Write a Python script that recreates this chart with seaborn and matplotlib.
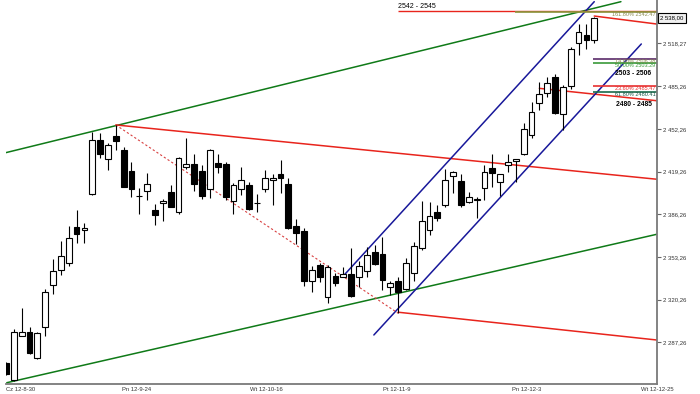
import numpy as np
import pandas as pd
import matplotlib
matplotlib.use("Agg")
import matplotlib.pyplot as plt
import seaborn as sns

# ---------------- data ----------------
opens = [2271.3, 2258.2, 2292.4, 2295.4, 2274.9, 2299.3, 2331.5, 2343.1, 2348.7, 2376.5,
         2373.9, 2401.8, 2443.4, 2429.3, 2446.5, 2436.2, 2419.7, 2400.0, 2404.1, 2389.6,
         2395.3, 2403.5, 2388.1, 2422.4, 2425.4, 2419.5, 2405.6, 2426.2, 2425.4, 2396.3,
         2405.6, 2408.7, 2394.6, 2406.1, 2413.1, 2417.0, 2410.0, 2377.0, 2373.4, 2334.8,
         2346.9, 2322.0, 2338.4, 2337.9, 2340.0, 2337.4, 2342.5, 2357.2, 2355.2, 2330.2,
         2334.8, 2328.2, 2341.0, 2359.8, 2373.9, 2388.1, 2393.3, 2415.6, 2412.0, 2395.8,
         2396.9, 2406.6, 2422.0, 2410.8, 2424.1, 2427.2, 2433.2, 2447.8, 2472.5, 2480.2,
         2492.3, 2464.1, 2485.4, 2518.8, 2525.0, 2520.6]
highs = [2272.0, 2297.3, 2314.0, 2299.3, 2295.4, 2328.4, 2351.3, 2365.5, 2377.0, 2389.9,
         2379.1, 2449.8, 2449.4, 2441.0, 2455.0, 2438.2, 2426.7, 2406.6, 2418.2, 2393.8,
         2398.4, 2408.7, 2430.5, 2445.2, 2433.2, 2424.1, 2437.0, 2433.2, 2426.7, 2410.5,
         2422.8, 2411.2, 2401.8, 2420.3, 2417.7, 2428.0, 2413.9, 2382.2, 2375.3, 2346.2,
         2348.7, 2346.9, 2341.0, 2345.6, 2359.8, 2350.0, 2361.0, 2362.4, 2368.3, 2334.8,
         2337.4, 2352.1, 2364.9, 2396.5, 2395.8, 2393.3, 2421.6, 2419.7, 2417.2, 2403.5,
         2399.7, 2424.1, 2433.2, 2417.7, 2433.2, 2429.3, 2457.1, 2473.0, 2488.4, 2492.3,
         2494.9, 2486.0, 2515.4, 2533.5, 2533.5, 2538.6]
lows = [2262.0, 2257.4, 2292.0, 2278.0, 2274.5, 2292.4, 2324.5, 2339.2, 2346.2, 2363.7,
        2364.1, 2401.0, 2429.8, 2420.3, 2435.7, 2407.0, 2399.6, 2386.1, 2397.1, 2377.8,
        2380.9, 2391.5, 2386.1, 2421.6, 2404.1, 2397.9, 2398.9, 2418.5, 2397.1, 2386.1,
        2400.9, 2389.5, 2387.6, 2403.5, 2393.3, 2402.3, 2375.0, 2363.1, 2330.7, 2326.3,
        2334.0, 2317.8, 2330.7, 2337.4, 2322.5, 2330.2, 2337.9, 2347.0, 2327.6, 2323.8,
        2309.6, 2327.6, 2334.8, 2358.5, 2370.1, 2381.1, 2392.0, 2402.3, 2392.0, 2395.0,
        2383.0, 2397.1, 2407.4, 2400.4, 2419.0, 2411.4, 2432.4, 2445.2, 2466.6, 2476.8,
        2464.0, 2451.1, 2483.3, 2509.0, 2514.2, 2518.8]
closes = [2262.8, 2295.0, 2295.0, 2279.2, 2294.2, 2325.9, 2342.5, 2353.9, 2368.0, 2370.6,
          2375.7, 2443.4, 2433.2, 2440.1, 2442.7, 2407.2, 2405.6, 2400.4, 2409.4, 2385.5,
          2396.3, 2391.9, 2430.1, 2425.4, 2410.0, 2400.4, 2435.7, 2422.8, 2399.7, 2409.2,
          2413.0, 2390.2, 2395.0, 2414.6, 2414.3, 2413.9, 2375.3, 2371.4, 2334.8, 2343.1,
          2337.4, 2345.6, 2332.8, 2340.0, 2323.0, 2346.2, 2354.7, 2347.7, 2335.4, 2333.3,
          2326.3, 2348.3, 2361.6, 2381.1, 2384.7, 2383.5, 2413.1, 2419.0, 2393.3, 2399.7,
          2397.9, 2419.0, 2418.5, 2417.0, 2426.7, 2428.8, 2452.4, 2465.3, 2479.5, 2487.9,
          2464.8, 2484.6, 2514.2, 2527.0, 2520.6, 2538.0]

x_tick_labels = ["Cz 12-8-30", "Pn 12-9-24", "Wt 12-10-16", "Pt 12-11-9", "Pn 12-12-3", "Wt 12-12-25"]
x_tick_bars = [0, 16.6, 33.2, 49.8, 66.4, 83.0]
y_tick_values = [2287.26, 2320.26, 2353.26, 2386.26, 2419.26, 2452.26, 2485.26, 2518.27]
y_tick_labels = ["2 287,26", "2 320,26", "2 353,26", "2 386,26", "2 419,26", "2 452,26", "2 485,26", "2 518,27"]
last_price_label = "2 538,00"
last_price = 2538.0

# trend lines: (bar index pair, price pair)
green_upper = ([0.0, 78.4], [2433.9, 2550.6])
green_lower = ([0.1, 83.0], [2256.0, 2370.8])
red_main = ([14.0, 83.0], [2455.3, 2413.3])
red_dotted = ([14.0, 50.0], [2455.3, 2309.7])
red_lower = ([50.0, 83.0], [2310.5, 2289.0])
blue_upper = ([43.0, 75.0], [2338.5, 2550.6])
blue_lower = ([46.9, 81.0], [2292.9, 2517.9])
red_top_short = ([75.0, 83.0], [2539.5, 2533.3])
red_mid_short = ([68.0, 83.0], [2483.6, 2474.0])

# horizontal levels
zone_top = 2543.5
zone_top_start = 50.0
fib_levels = [2542.47, 2506.38, 2503.29, 2485.47, 2480.41]
fib_starts = [64.9, 74.8, 74.8, 74.8, 74.8]
fib_labels = ["161.80% 2542.47", "14.60% 2506.38", "50.00% 2503.29", "23.60% 2485.47", "61.80% 2480.41"]
fib_colors = ["#8a9a40", "#5a2a6a", "#3a9a3a", "#e83030", "#1a6a4a"]
fib_text_colors = ["#8a8a50", "#8a8a50", "#3a9a3a", "#e83030", "#1a5a4a"]
zone_labels = ["2542 - 2545", "2503 - 2506", "2480 - 2485"]
zone_label_prices = [2547.2, 2494.7, 2471.1]

# ---------------- style ----------------
sns.set_style("white")
plt.rcParams['font.family'] = ['Liberation Sans', 'DejaVu Sans']

fig = plt.figure(figsize=(7.0, 3.94), dpi=100)
ax = fig.add_axes([6 / 700, 10 / 394, 651 / 700, 384 / 394])

df = pd.DataFrame({"open": opens, "high": highs, "low": lows, "close": closes})
df["i"] = np.arange(len(df))
up = df["close"] >= df["open"]

ax.vlines(df["i"], df["low"], df["high"], color="black", lw=0.8, zorder=3)
ax.bar(df["i"][up], (df["close"] - df["open"])[up], bottom=df["open"][up], width=0.74,
       facecolor="white", edgecolor="black", lw=0.8, zorder=4)
ax.bar(df["i"][~up], (df["close"] - df["open"])[~up], bottom=df["open"][~up], width=0.74,
       facecolor="black", edgecolor="black", lw=0.8, zorder=4)

GREEN = "#0f7a18"
RED = "#e8241c"
BLUE = "#18189a"

def tl(line, color, lw=1.1, ls="-", z=2):
    sns.lineplot(x=line[0], y=line[1], ax=ax, color=color, lw=lw, linestyle=ls, zorder=z)

tl(green_upper, GREEN)
tl(green_lower, GREEN)
tl(red_main, RED)
tl(red_lower, RED)
tl(red_top_short, RED)
tl(red_mid_short, RED)
tl(blue_upper, BLUE)
tl(blue_lower, BLUE)
sns.lineplot(x=red_dotted[0], y=red_dotted[1], ax=ax, color="#d84040", lw=0.8,
             linestyle=(0, (2, 2)), zorder=2)

# horizontal levels
ax.hlines(zone_top, zone_top_start, 83, color=RED, lw=1.0, zorder=2)
for lvl, st, c in zip(fib_levels, fib_starts, fib_colors):
    ax.hlines(lvl, st, 83, color=c, lw=1.2, zorder=2)

ax.text(50.0, zone_label_prices[0], zone_labels[0], fontsize=5.0, color="black",
        ha="left", va="center", zorder=6)
for lab, lvl, c in zip(fib_labels, fib_levels, fib_text_colors):
    ax.text(82.8, lvl - 1.7, lab, fontsize=4.0, color=c, ha="right", va="center", zorder=6)
for lab, p in zip(zone_labels[1:], zone_label_prices[1:]):
    ax.text(82.3, p, lab, fontsize=4.9, fontweight="bold", color="black",
            ha="right", va="center", zorder=6)

ax.set_xlim(0, 83)
ax.set_ylim(2255.0, 2551.9)

ax.set_xticks(x_tick_bars)
ax.set_xticklabels(x_tick_labels, fontsize=4.2, color="#333333")
ax.get_xticklabels()[0].set_horizontalalignment("left")
ax.yaxis.tick_right()
ax.set_yticks(y_tick_values)
ax.set_yticklabels(y_tick_labels, fontsize=4.3, color="#333333")
ax.tick_params(axis="x", length=3, width=0.8, color="#666666", pad=1.0, direction="inout")
ax.tick_params(axis="y", length=3, width=0.8, color="#666666", pad=1.5)

for s in ["left", "top"]:
    ax.spines[s].set_visible(False)
for s in ["right", "bottom"]:
    ax.spines[s].set_color("#7a7a7a")
    ax.spines[s].set_linewidth(1.3)

ax.text(1.005, last_price, last_price_label, transform=ax.get_yaxis_transform(),
        fontsize=4.3, ha="left", va="center", color="black",
        bbox=dict(boxstyle="square,pad=0.35", facecolor="#f0f0f0", edgecolor="black", lw=0.8))

fig.savefig("out.png", dpi=100)
